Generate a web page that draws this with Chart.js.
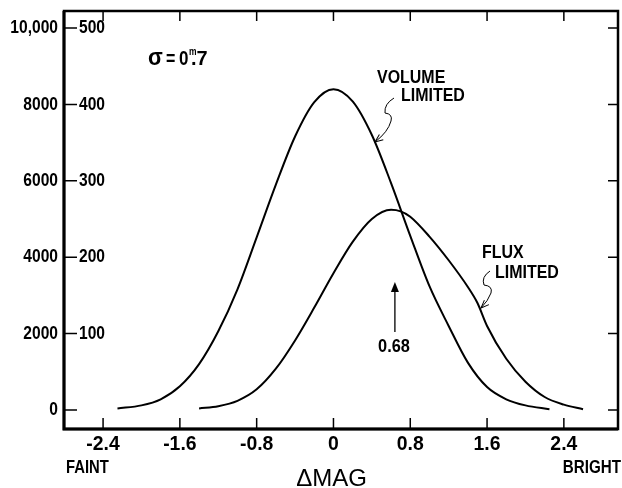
<!DOCTYPE html>
<html>
<head>
<meta charset="utf-8">
<script src="https://cdn.jsdelivr.net/npm/chart.js@4/dist/chart.umd.min.js"></script>
<style>
  body { margin: 0; background: #fff; }
  #wrap { width: 622px; height: 488px; }
</style>
</head>
<body>
<div id="wrap"><canvas id="magChart"></canvas></div>
<script>
// values (inner scale, 0-500)
var volX = [-2.25, -2.0, -1.8, -1.6, -1.4, -1.2, -1.0, -0.8, -0.6, -0.4, -0.2, 0, 0.2, 0.4, 0.6, 0.8, 1.0, 1.2, 1.4, 1.6, 1.8, 2.0, 2.25];
var volY = [2, 6, 14, 31, 60, 103, 158, 226, 295, 358, 403, 420, 404, 360, 297, 228, 162, 110, 62, 30, 14, 6, 1];
var fluxX = [-1.4, -1.2, -1.0, -0.8, -0.6, -0.4, -0.2, 0, 0.2, 0.4, 0.6, 0.7, 0.8, 1.0, 1.2, 1.4, 1.5, 1.6, 1.8, 2.0, 2.2, 2.4, 2.6];
var fluxY = [2, 5, 12, 27, 54, 91, 134, 179, 220, 250, 262, 260, 253, 227, 196, 161, 140, 110, 67, 37, 17, 7, 1];

var xTicks = [-2.4, -1.6, -0.8, 0, 0.8, 1.6, 2.4];
var xTickLabels = ['-2.4', '-1.6', '-0.8', '0', '0.8', '1.6', '2.4'];
var yTicks = [0, 100, 200, 300, 400, 500];
var yOuterLabels = ['0', '2000', '4000', '6000', '8000', '10,000'];
var yInnerLabels = ['', '100', '200', '300', '400', '500'];

function toPoints(xs, ys) {
    var pts = [];
    for (var i = 0; i < xs.length; i++) {
        pts.push({x: xs[i], y: ys[i]});
    }
    return pts;
}

var FONT = "'Liberation Sans', Arial, sans-serif";

// condensed text, like the old typeset labels
function text(ctx, str, x, y, size, align, sx, weight) {
    ctx.save();
    ctx.font = (weight || 'bold') + ' ' + size + 'px ' + FONT;
    ctx.textAlign = align;
    ctx.translate(x, y);
    ctx.scale(sx, 1);
    ctx.fillText(str, 0, 0);
    ctx.restore();
}

function arrowHead(ctx, x, y, angle, len, filled) {
    ctx.save();
    ctx.translate(x, y);
    ctx.rotate(angle);
    ctx.beginPath();
    ctx.moveTo(-len, -len * 0.4);
    ctx.lineTo(0, 0);
    ctx.lineTo(-len, len * 0.4);
    if (filled) {
        ctx.closePath();
        ctx.fill();
    } else {
        ctx.stroke();
    }
    ctx.restore();
}

var framePlugin = {
    id: 'framePlugin',
    afterDraw: function (chart) {
        var ctx = chart.ctx;
        var a = chart.chartArea;
        var xs = chart.scales.x;
        var ys = chart.scales.y;
        ctx.save();
        ctx.strokeStyle = '#000';
        ctx.fillStyle = '#000';

        // frame
        ctx.lineWidth = 2.5;
        ctx.strokeRect(a.left, a.top, a.right - a.left, a.bottom - a.top);
        ctx.lineWidth = 3;
        ctx.beginPath();
        ctx.moveTo(a.left, a.top);
        ctx.lineTo(a.left, a.bottom);
        ctx.lineTo(a.right, a.bottom);
        ctx.stroke();

        // x ticks, inward top and bottom
        ctx.lineWidth = 1.5;
        ctx.textBaseline = 'middle';
        for (var i = 0; i < xTicks.length; i++) {
            var px = xs.getPixelForValue(xTicks[i]);
            ctx.beginPath();
            ctx.moveTo(px, a.bottom);
            ctx.lineTo(px, a.bottom - 11);
            ctx.moveTo(px, a.top);
            ctx.lineTo(px, a.top + 10);
            ctx.stroke();
            text(ctx, xTickLabels[i], px, a.bottom + 15, 20, 'center', 0.97);
        }

        // y ticks, inward left and right
        for (var j = 0; j < yTicks.length; j++) {
            var py = ys.getPixelForValue(yTicks[j]);
            ctx.beginPath();
            ctx.moveTo(a.left, py);
            ctx.lineTo(a.left + 13, py);
            ctx.moveTo(a.right, py);
            ctx.lineTo(a.right - 10, py);
            ctx.stroke();
            text(ctx, yOuterLabels[j], a.left - 6, py, 19, 'right', 0.82);
            text(ctx, yInnerLabels[j], a.left + 15, py, 19, 'left', 0.82);
        }

        // axis captions
        text(ctx, 'FAINT', a.left + 2, a.bottom + 39, 19, 'left', 0.78);
        text(ctx, 'BRIGHT', 621, a.bottom + 39, 19, 'right', 0.8);
        text(ctx, '\u0394MAG', xs.getPixelForValue(-0.02), a.bottom + 50, 24, 'center', 1, 'normal');

        // sigma label
        ctx.textBaseline = 'alphabetic';
        text(ctx, '\u03c3', 148, 65, 24, 'left', 0.9);
        text(ctx, '=', 166, 65, 20, 'left', 0.8);
        text(ctx, '0', 179, 65, 20, 'left', 0.85);
        text(ctx, 'm', 189, 55, 10, 'left', 0.85);
        text(ctx, '.7', 191, 65, 21, 'left', 0.95);

        // curve captions
        text(ctx, 'VOLUME', 377, 83, 19, 'left', 0.84);
        text(ctx, 'LIMITED', 401, 101, 19, 'left', 0.84);
        text(ctx, 'FLUX', 482, 258, 19, 'left', 0.84);
        text(ctx, 'LIMITED', 495, 278, 19, 'left', 0.84);
        text(ctx, '0.68', 394, 352, 19, 'center', 0.86);

        // 0.68 arrow
        var ax = xs.getPixelForValue(0.64);
        ctx.lineWidth = 1.3;
        ctx.beginPath();
        ctx.moveTo(ax, 332);
        ctx.lineTo(ax, 288);
        ctx.stroke();
        arrowHead(ctx, ax, 282, -Math.PI / 2, 10, true);

        // squiggly leaders
        ctx.lineWidth = 1;
        ctx.beginPath();
        ctx.moveTo(394, 98);
        ctx.quadraticCurveTo(384, 104, 385, 113);
        ctx.quadraticCurveTo(393, 114, 391, 121);
        ctx.quadraticCurveTo(388, 132, 375, 142);
        ctx.stroke();
        arrowHead(ctx, 375, 142, Math.atan2(10, -13), 8, false);

        ctx.beginPath();
        ctx.moveTo(490, 271);
        ctx.quadraticCurveTo(481, 277, 484, 285);
        ctx.quadraticCurveTo(493, 286, 491, 293);
        ctx.quadraticCurveTo(488, 301, 481, 308);
        ctx.stroke();
        arrowHead(ctx, 481, 308, Math.atan2(7, -7), 8, false);

        ctx.restore();
    }
};

var magChart = new Chart(document.getElementById('magChart'), {
    type: 'line',
    data: {
        datasets: [
            {
                label: 'Volume limited',
                data: toPoints(volX, volY),
                borderColor: '#000',
                borderWidth: 2,
                pointRadius: 0,
                fill: false,
                cubicInterpolationMode: 'monotone'
            },
            {
                label: 'Flux limited',
                data: toPoints(fluxX, fluxY),
                borderColor: '#000',
                borderWidth: 2,
                pointRadius: 0,
                fill: false,
                cubicInterpolationMode: 'monotone'
            }
        ]
    },
    options: {
        responsive: true,
        maintainAspectRatio: false,
        animation: false,
        devicePixelRatio: 1,
        layout: {
            padding: {left: 64, right: 4, top: 11, bottom: 59}
        },
        plugins: {
            legend: {display: false},
            tooltip: {enabled: false}
        },
        scales: {
            x: {type: 'linear', min: -2.807, max: 2.964, display: false},
            y: {type: 'linear', min: -24.9, max: 522.3, display: false}
        }
    },
    plugins: [framePlugin]
});
</script>
</body>
</html>
